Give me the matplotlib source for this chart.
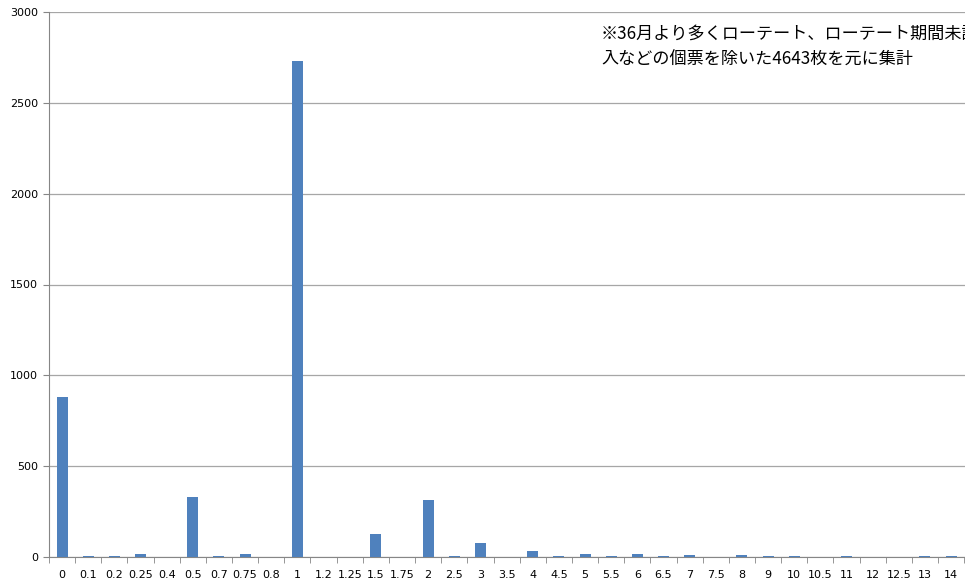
import matplotlib

matplotlib.use("Agg")

import matplotlib.pyplot as plt
import numpy as np

plt.rcParams["font.family"] = ["Noto Sans CJK JP", "DejaVu Sans"]

CATEGORIES = ["0", "0.1", "0.2", "0.25", "0.4", "0.5", "0.7", "0.75", "0.8", "1",
              "1.2", "1.25", "1.5", "1.75", "2", "2.5", "3", "3.5", "4", "4.5",
              "5", "5.5", "6", "6.5", "7", "7.5", "8", "9", "10", "10.5",
              "11", "12", "12.5", "13", "14"]
COUNTS = [880, 5, 3, 18, 2, 330, 4, 17, 2, 2730,
          2, 2, 127, 2, 313, 4, 75, 2, 33, 5,
          18, 4, 14, 3, 10, 2, 10, 5, 4, 2,
          5, 2, 2, 5, 3]
Y_TICKS = [0, 500, 1000, 1500, 2000, 2500, 3000]
NOTE = "※36月より多くローテート、ローテート期間未記\n入などの個票を除いた4643枚を元に集計"


def main():
    fig = plt.figure(figsize=(9.65, 5.84), dpi=100)
    ax = fig.add_axes([49 / 965, 27 / 584, 1 - 49 / 965 + 0.01, (557 - 12) / 584])

    x = np.arange(len(CATEGORIES))
    ax.bar(x, COUNTS, width=0.42, color="#4f81bd", zorder=3)

    ax.set_xlim(-0.5, len(CATEGORIES) - 0.5 + 0.4)
    ax.set_ylim(0, 3000)
    ax.set_yticks(Y_TICKS)
    ax.set_yticklabels([str(v) for v in Y_TICKS], fontsize=8, family="DejaVu Sans")
    ax.yaxis.grid(True, color="#a6a6a6", lw=0.9, zorder=0)

    ax.set_xticks(x)
    ax.set_xticklabels(CATEGORIES, fontsize=8, family="DejaVu Sans")
    ax.set_xticks(np.arange(len(CATEGORIES) + 1) - 0.5, minor=True)
    ax.tick_params(axis="x", which="major", length=0, pad=9)
    ax.tick_params(axis="x", which="minor", length=4, color="#868686")
    ax.tick_params(axis="y", length=4, color="#868686", pad=4)

    for side in ["top", "right"]:
        ax.spines[side].set_visible(False)
    ax.spines["left"].set_color("#868686")
    ax.spines["bottom"].set_color("#868686")

    fig.text(601 / 965, 1 - 25 / 584, NOTE, fontsize=12.3, va="top", ha="left",
             linespacing=1.55, color="black")

    fig.savefig("out.png", dpi=100)
    plt.close(fig)


if __name__ == "__main__":
    main()
